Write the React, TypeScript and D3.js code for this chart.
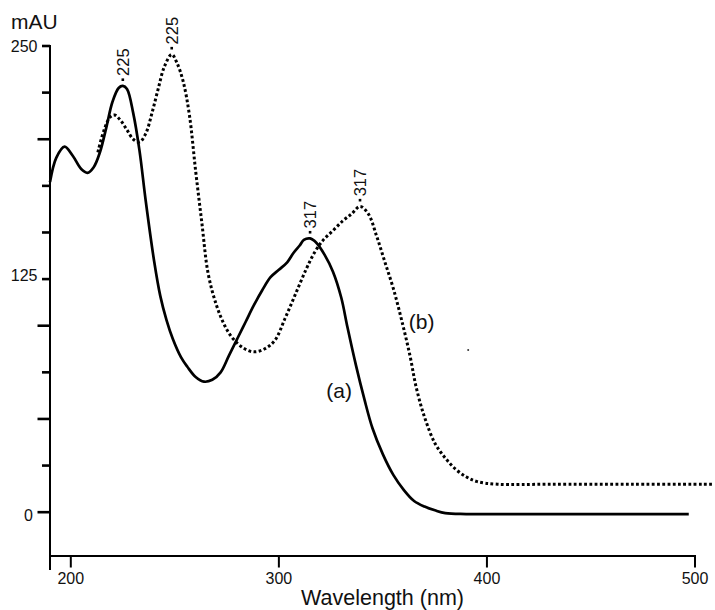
import React from "react";
import * as d3 from "d3";

// ---- Data ----
// (a) solid spectrum: [wavelength nm, absorbance mAU]
const spectrumA: [number, number][] = [
  [190, 177], [193, 190], [197, 196], [201, 191], [205, 184], [208, 182], [211, 185],
  [214, 193], [217, 206], [220, 220], [223, 227.5], [225, 228.6], [227, 227], [230, 214],
  [233, 194], [236, 167], [240, 135], [243, 116], [246, 103], [249, 93], [253, 83],
  [256, 78], [260, 72.5], [264, 70], [268, 71], [272, 75], [276, 84], [280, 93], [284, 102],
  [288, 111], [292, 119], [296, 126], [300, 130], [304, 134], [307, 139], [310, 143],
  [312, 146], [315, 146.8], [318, 144.5], [322, 138], [326, 129], [330, 115], [333, 99],
  [337, 79], [341, 61], [345, 45], [350, 31], [355, 20], [360, 12], [365, 6], [370, 3],
  [375, 1], [380, -0.5], [390, -1], [420, -1], [460, -1], [497, -1],
];
// (b) dotted spectrum
const spectrumB: [number, number][] = [
  [213, 193], [216, 205], [219, 212], [221, 213], [224, 210], [227, 205], [230, 200],
  [233, 198.5], [236, 203], [239, 214], [242, 227], [245, 239], [248.5, 245.5], [251, 241],
  [254, 231], [257, 213], [260, 183], [263, 155], [266, 128], [270, 111], [274, 100],
  [278, 93], [283, 88], [288, 86], [293, 87.5], [298, 92], [303, 104], [308, 117],
  [313, 130], [317, 139], [321, 145.5], [326, 151], [331, 156.5], [335, 160], [339, 164],
  [343, 160], [347, 148], [351, 134], [355, 120], [359, 103], [363, 84], [366, 67],
  [370, 51], [375, 37], [380, 29], [385, 23], [390, 19], [395, 16.5], [405, 15],
  [430, 15], [470, 15], [508.5, 15],
];
// Peak annotations: [wavelength, value, label]
const peakLabels: [number, number, string][] = [
  [225, 228.6, "225"],
  [248.5, 245.5, "225"],
  [315, 146.8, "317"],
  [339, 164, "317"],
];
// Curve name labels: [wavelength, value, text]
const curveLabels: [number, number, string][] = [
  [329, 61, "(a)"],
  [368.6, 98, "(b)"],
];
const strayDots: [number, number][] = [[391, 87]];

const xTicks = [200, 300, 400, 500];
const yTicks = [0, 25, 50, 75, 100, 125, 150, 175, 200, 225, 250];
const yTickLabels = [0, 125, 250];
const yLabelShift = [9, 2, 6];
const yLongTicks = [0, 50, 100, 200];
const xDomain: [number, number] = [190, 500];
const yDomain: [number, number] = [-31, 250];
const xAxisAt = -23.5;

const FONT = "'Liberation Sans', Arial, Helvetica, sans-serif";

export default function App() {
  const W = 715;
  const H = 610;
  const x = d3.scaleLinear().domain(xDomain).range([50, 695]);
  const y = d3.scaleLinear().domain(yDomain).range([570, 46]);

  const line = d3
    .line<[number, number]>()
    .x((d) => x(d[0]))
    .y((d) => y(d[1]))
    .curve(d3.curveCatmullRom.alpha(0.5));

  const x0 = x(xDomain[0]);
  const yAxisY = y(xAxisAt);

  return (
    <svg
      width={W}
      height={H}
      viewBox={`0 0 ${W} ${H}`}
      style={{ position: "absolute", left: 0, top: 0, background: "#fff" }}
      fontFamily={FONT}
    >
      <rect x={0} y={0} width={W} height={H} fill="#fff" />

      {/* Y axis */}
      <line x1={x0} x2={x0} y1={y(250) - 1} y2={y(yDomain[0])} stroke="#000" strokeWidth={2} />
      {yTicks.map((t) => (
        <line
          key={"yt" + t}
          x1={x0 - (yLongTicks.includes(t) ? 12.5 : 8)}
          x2={x0}
          y1={y(t)}
          y2={y(t)}
          stroke="#000"
          strokeWidth={2.6}
        />
      ))}
      {yTickLabels.map((t, i) => (
        <text
          key={"yl" + t}
          x={t === 0 ? 33 : 37.5}
          y={y(t) + yLabelShift[i]}
          fontSize={16}
          textAnchor="end"
          fill="#111"
        >
          {t}
        </text>
      ))}
      <text x={11} y={28.5} fontSize={21} fill="#111">
        mAU
      </text>

      {/* X axis */}
      <line x1={x0 - 1} x2={x(500) + 1} y1={yAxisY} y2={yAxisY} stroke="#000" strokeWidth={2} />
      {xTicks.map((t) => (
        <line
          key={"xt" + t}
          x1={x(t)}
          x2={x(t)}
          y1={yAxisY}
          y2={yAxisY + 11.5}
          stroke="#000"
          strokeWidth={2}
        />
      ))}
      {xTicks.map((t) => (
        <text key={"xl" + t} x={x(t)} y={583.5} fontSize={16} textAnchor="middle" fill="#111">
          {t}
        </text>
      ))}
      <text x={382.5} y={605} fontSize={21.5} textAnchor="middle" fill="#111">
        Wavelength (nm)
      </text>

      {/* Curves */}
      <path d={line(spectrumA) || ""} fill="none" stroke="#000" strokeWidth={2.7} />
      <path
        d={line(spectrumB) || ""}
        fill="none"
        stroke="#000"
        strokeWidth={3}
        strokeDasharray="2.8 2.4"
      />

      {/* Peak labels */}
      {peakLabels.map(([wl, v, lab], i) => {
        const px = x(wl);
        const py = y(v);
        return (
          <g key={"pk" + i}>
            <rect x={px - 1.3} y={py - 7.5} width={2.6} height={2.6} fill="#000" />
            <text
              transform={`translate(${px},${py - 10}) rotate(-90)`}
              fontSize={16.5}
              dominantBaseline="central"
              fill="#111"
            >
              {lab}
            </text>
          </g>
        );
      })}

      {/* Curve labels */}
      {curveLabels.map(([wl, v, t]) => (
        <text key={t} x={x(wl)} y={y(v)} fontSize={21} textAnchor="middle" fill="#111">
          {t}
        </text>
      ))}
      {strayDots.map(([wl, v], i) => (
        <circle key={"sd" + i} cx={x(wl)} cy={y(v)} r={1} fill="#333" />
      ))}
    </svg>
  );
}
